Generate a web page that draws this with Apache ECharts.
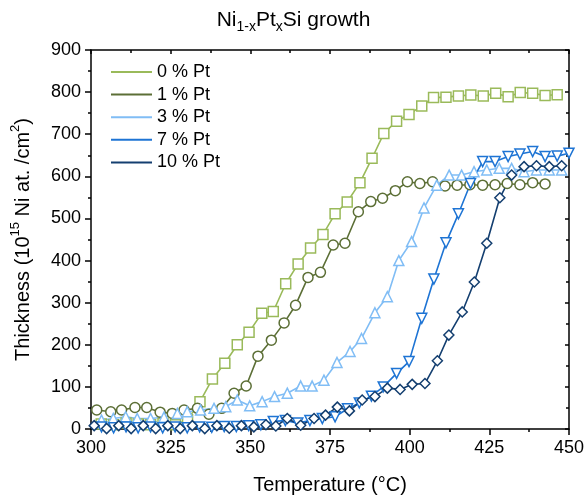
<!DOCTYPE html>
<html>
<head>
<meta charset="utf-8">
<script src="https://cdn.jsdelivr.net/npm/echarts@6/dist/echarts.min.js"></script>
<style>
  html, body { margin: 0; padding: 0; background: #fff; }
  #main { width: 587px; height: 502px; }
</style>
</head>
<body>
<div id="main"></div>
<script>
// temperatures (°C) and thickness (10^15 Ni at./cm2) per Pt content
const temp0 = [303.2, 307.1, 311.0, 314.8, 318.7, 322.6, 326.5, 330.3, 334.2, 338.1, 342.0, 345.9, 349.6, 353.6, 357.2, 361.1, 365.0, 368.9, 372.8, 376.6, 380.4, 384.4, 388.2, 391.9, 395.9, 399.8, 403.8, 407.5, 411.4, 415.3, 419.2, 423.1, 427.0, 430.9, 434.7, 438.6, 442.5, 446.3]
const thick0 = [12, 10, 14, 12, 10, 13, 10, 22, 65, 119, 156, 200, 230, 275, 279, 345, 392, 430, 462, 511, 539, 585, 643, 702, 731, 747, 767, 787, 788, 791, 793, 791, 797, 789, 799, 797, 792, 794]

const temp1 = [301.8, 306.2, 309.6, 313.8, 317.5, 321.7, 325.5, 329.2, 333.4, 337.0, 341.0, 344.9, 348.7, 352.4, 356.6, 360.6, 364.2, 368.1, 372.0, 376.0, 379.7, 383.9, 387.8, 391.5, 395.5, 399.3, 403.2, 407.2, 411.1, 414.9, 418.9, 422.9, 426.8, 430.6, 434.6, 438.6, 442.5]
const thick1 = [45, 41, 45, 51, 51, 40, 37, 45, 49, 35, 49, 85, 102, 173, 211, 252, 294, 360, 372, 437, 441, 516, 540, 548, 566, 587, 583, 587, 577, 579, 580, 579, 580, 583, 580, 585, 582]

const temp3 = [303.3, 307.0, 310.9, 314.5, 318.7, 322.9, 327.1, 330.2, 334.4, 338.6, 342.3, 345.9, 349.8, 353.7, 357.6, 361.6, 365.8, 369.4, 373.1, 377.2, 381.3, 384.9, 389.1, 393.0, 396.6, 400.6, 404.5, 408.5, 412.4, 416.3, 420.2, 424.2, 428.1, 432.0, 435.9, 439.8, 443.8, 447.7]
const thick3 = [21, 25, 29, 25, 25, 28, 37, 41, 45, 49, 53, 69, 55, 65, 77, 85, 102, 102, 116, 158, 184, 215, 276, 314, 400, 445, 525, 579, 603, 603, 611, 615, 619, 619, 611, 615, 615, 615]

const temp7 = [303.3, 307.1, 311.0, 314.8, 318.7, 322.5, 326.4, 330.2, 334.1, 337.9, 341.8, 345.6, 349.5, 353.3, 357.2, 361.0, 364.9, 368.7, 372.6, 376.6, 380.5, 384.2, 388.0, 391.7, 395.9, 399.8, 403.8, 407.6, 411.4, 415.3, 419.1, 422.9, 426.8, 430.9, 434.6, 438.6, 442.5, 446.3, 450.0]
const thick7 = [5, 3, 5, 3, 5, 3, 5, 3, 5, 4, 6, 6, 8, 10, 18, 20, 14, 20, 25, 29, 48, 62, 78, 100, 132, 160, 263, 356, 442, 511, 583, 635, 635, 647, 653, 659, 647, 648, 655]

const temp10 = [301.0, 304.9, 308.7, 312.6, 316.4, 320.3, 324.1, 328.0, 331.8, 335.7, 339.5, 343.4, 347.2, 351.1, 354.9, 358.0, 361.6, 365.8, 370.0, 373.6, 377.3, 381.1, 385.1, 389.1, 393.0, 397.0, 400.8, 404.8, 408.7, 412.3, 416.5, 420.3, 424.2, 428.3, 432.0, 435.9, 439.8, 443.8, 447.7]
const thick10 = [8, 1, 8, 1, 8, 1, 8, 1, 8, 1, 8, 2, 8, 5, 10, 7, 25, 9, 25, 33, 52, 43, 69, 77, 97, 94, 106, 108, 162, 223, 278, 349, 441, 549, 603, 623, 625, 623, 625]

const seriesNames = ['0 % Pt', '1 % Pt', '3 % Pt', '7 % Pt', '10 % Pt']
const xTicks = [300, 325, 350, 375, 400, 425, 450]

const temps = [temp0, temp1, temp3, temp7, temp10]
const thicks = [thick0, thick1, thick3, thick7, thick10]
const colors = ['#9aba5a', '#5c6f36', '#80bdf5', '#1e74d4', '#143f70']
const symbols = ['rect', 'circle', 'triangle', 'path://M0,0 L10,0 L5,9 Z', 'diamond']

const font = "'Liberation Sans', Arial, sans-serif"
const black = '#000'

var myChart = echarts.init(document.getElementById('main'))

const baseAxis = {
    axisLine: { show: true, onZero: false, lineStyle: { color: black, width: 1.5 } },
    splitLine: { show: false }
}

var option = {
    backgroundColor: '#fff',
    animation: false,
    textStyle: { fontFamily: font },
    title: {
        text: '{a|Ni}{s|1-x}{a|Pt}{s|x}{a|Si growth}',
        left: 'center',
        top: 0,
        padding: [6, 5, 5, 5],
        textStyle: {
            fontWeight: 'normal',
            rich: {
                a: { fontFamily: font, fontSize: 21, fontWeight: 'normal', color: black, lineHeight: 28 },
                s: { fontFamily: font, fontSize: 14, fontWeight: 'normal', color: black, lineHeight: 12, verticalAlign: 'bottom' }
            }
        }
    },
    legend: {
        orient: 'vertical',
        left: 111,
        top: 62,
        icon: 'rect',
        itemWidth: 41,
        itemHeight: 2,
        itemGap: 2.6,
        padding: 0,
        textStyle: { fontFamily: font, fontSize: 18, color: black, lineHeight: 20 },
        data: seriesNames.map((n, i) => ({ name: n, itemStyle: { color: colors[i], borderWidth: 0 } }))
    },
    grid: { left: 91, right: 18, top: 50, bottom: 73 },
    xAxis: [
        Object.assign({}, baseAxis, {
            type: 'value', min: 300, max: 450, interval: 25, position: 'bottom',
            name: 'Temperature (°C)', nameLocation: 'middle', nameGap: 46,
            nameTextStyle: { fontFamily: font, fontSize: 20, color: black },
            axisTick: { show: true, inside: false, length: 6, lineStyle: { color: black, width: 1.5 } },
            minorTick: { show: true, splitNumber: 2, length: 3, lineStyle: { color: black, width: 1.5 } },
            axisLabel: { fontFamily: font, fontSize: 18, color: black, margin: 10,
                formatter: v => xTicks.includes(v) ? String(v) : '' }
        }),
        Object.assign({}, baseAxis, {
            type: 'value', min: 300, max: 450, interval: 25, position: 'top',
            axisTick: { show: true, inside: true, length: 4, lineStyle: { color: black, width: 1.5 } },
            minorTick: { show: true, splitNumber: 2, length: 3, lineStyle: { color: black, width: 1.5 } },
            axisLabel: { show: false }
        })
    ],
    yAxis: [
        Object.assign({}, baseAxis, {
            type: 'value', min: 0, max: 900, interval: 100, position: 'left',
            name: '{a|Thickness (10}{p|15}{a| Ni at. /cm}{p|2}{a|)}',
            nameLocation: 'middle', nameGap: 54,
            nameTextStyle: {
                rich: {
                    a: { fontFamily: font, fontSize: 20, color: black, lineHeight: 28 },
                    p: { fontFamily: font, fontSize: 13, color: black, lineHeight: 16, verticalAlign: 'top' }
                }
            },
            axisTick: { show: true, inside: false, length: 6, lineStyle: { color: black, width: 1.5 } },
            minorTick: { show: true, splitNumber: 2, length: 3, lineStyle: { color: black, width: 1.5 } },
            axisLabel: { fontFamily: font, fontSize: 18, color: black, margin: 10 }
        }),
        Object.assign({}, baseAxis, {
            type: 'value', min: 0, max: 900, interval: 100, position: 'right',
            axisTick: { show: true, inside: true, length: 4, lineStyle: { color: black, width: 1.5 } },
            minorTick: { show: true, splitNumber: 2, length: 3, lineStyle: { color: black, width: 1.5 } },
            axisLabel: { show: false }
        })
    ],
    series: seriesNames.map((n, i) => ({
        name: n,
        type: 'line',
        xAxisIndex: 0,
        yAxisIndex: 0,
        data: temps[i].map((t, j) => [t, thicks[i][j]]),
        symbol: symbols[i],
        symbolSize: 10,
        showSymbol: true,
        lineStyle: { color: colors[i], width: 1.6 },
        itemStyle: { color: '#fff', borderColor: colors[i], borderWidth: 1.5 },
        emphasis: { disabled: true }
    }))
}

myChart.setOption(option)
</script>
</body>
</html>
